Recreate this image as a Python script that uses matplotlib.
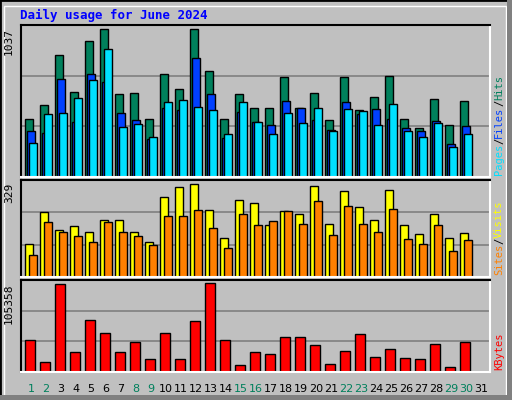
import matplotlib.pyplot as plt
from matplotlib.patches import Rectangle
import numpy as np

days = np.arange(1, 32)
weekend = [1, 2, 8, 9, 15, 16, 22, 23, 29, 30]

hits = [396, 491, 832, 580, 928, 1010, 566, 573, 396, 703, 600, 1010, 723, 396, 566,
        471, 471, 682, 471, 573, 389, 682, 457, 546, 689, 396, 334, 532, 355, 519, 0]
files = [314, 300, 669, 375, 703, 648, 437, 389, 259, 471, 458, 812, 566, 266, 443,
         375, 355, 519, 471, 389, 321, 512, 430, 464, 396, 334, 314, 382, 225, 348, 0]
pages = [232, 430, 437, 539, 662, 873, 341, 362, 273, 512, 525, 478, 457, 293, 512,
         375, 293, 437, 368, 471, 314, 464, 450, 355, 498, 314, 273, 368, 205, 293, 0]
visits = [112, 220, 160, 173, 153, 193, 193, 153, 119, 271, 305, 315, 227, 132, 261,
          251, 176, 224, 214, 309, 180, 292, 237, 193, 295, 176, 146, 214, 132, 149, 0]
sites = [75, 187, 153, 139, 119, 187, 153, 139, 108, 207, 207, 227, 166, 98, 214,
         176, 190, 224, 180, 258, 142, 241, 180, 153, 231, 129, 112, 176, 88, 126, 0]
kbytes = [37000, 11600, 100700, 23000, 59000, 45000, 23000, 34700, 15000, 45000, 15000,
          58000, 102000, 37000, 8100, 23000, 20800, 40500, 40500, 31000, 9300, 24300,
          44000, 17400, 26600, 16200, 15000, 32400, 5800, 34700, 0]

W, H = 512, 400
fig = plt.figure(figsize=(W / 100, H / 100), dpi=100)
fig.patch.set_facecolor("#C0C0C0")
# outer frame
fig.add_artist(Rectangle((0, 0), 1, 1, transform=fig.transFigure, fill=False,
                         edgecolor="black", linewidth=2))
fig.add_artist(Rectangle((4 / W, 4 / H), (W - 10) / W, (H - 10) / H, transform=fig.transFigure,
                         fill=False, edgecolor="white", linewidth=1))
fig.add_artist(Rectangle((0, 0), (W - 5) / W, 5 / H, transform=fig.transFigure,
                         facecolor="#808080", edgecolor="none"))
fig.add_artist(Rectangle(((W - 5) / W, 0), 5 / W, 1, transform=fig.transFigure,
                         facecolor="#808080", edgecolor="none"))

mono = "DejaVu Sans Mono"
fig.text(20 / W, 1 - 15 / H, "Daily usage for June 2024", color="#0000FF", fontsize=9,
         fontweight="bold", family=mono, va="center")

x0, x1 = 21, 490
xpos = 25 + 15 * (days - 1)


def panel(top, bottom, ymax, label):
    ax = fig.add_axes([x0 / W, 1 - bottom / H, (x1 - x0) / W, (bottom - top) / H])
    ax.set_facecolor("#C0C0C0")
    ax.set_xlim(x0, x1)
    ax.set_ylim(0, ymax)
    for f in (1 / 3, 2 / 3):
        ax.axhline(ymax * f, color="#808080", linewidth=1.2, zorder=0)
    ax.set_xticks([])
    ax.set_yticks([])
    for s in ("top", "left"):
        ax.spines[s].set_color("black")
    for s in ("bottom", "right"):
        ax.spines[s].set_color("white")
    for s in ax.spines.values():
        s.set_linewidth(1.5)
    fig.text(9 / W, 1 - (top + 3) / H, label, rotation=90, ha="center", va="top",
             fontsize=8, family=mono)
    return ax


renderer = fig.canvas.get_renderer()


def side_label(bottom, parts):
    # stacked vertical text pieces, bottom to top, measured after drawing
    y = bottom - 2
    for txt, col in parts:
        t = fig.text(499 / W, 1 - y / H, txt, rotation=90, color=col, ha="center",
                     va="bottom", fontsize=7.5, family=mono)
        y -= t.get_window_extent(renderer).height


bw = 8
ax1 = panel(25, 177, 1037, "1037")
ax1.bar(xpos, hits, bw, align="edge", color="#00805C", edgecolor="black", linewidth=1)
ax1.bar(xpos + 2, files, bw, align="edge", color="#0040FF", edgecolor="black", linewidth=1)
ax1.bar(xpos + 4, pages, bw, align="edge", color="#00E0FF", edgecolor="black", linewidth=1)
side_label(177, [("Pages", "#00E0FF"), ("/", "black"), ("Files", "#0040FF"),
                 ("/", "black"), ("Hits", "#00805C")])

ax2 = panel(180, 277, 329, "329")
ax2.bar(xpos, visits, bw, align="edge", color="#FFFF00", edgecolor="black", linewidth=1)
ax2.bar(xpos + 4, sites, bw, align="edge", color="#FF8000", edgecolor="black", linewidth=1)
side_label(277, [("Sites", "#FF8000"), ("/", "black"), ("Visits", "#FFFF00")])

ax3 = panel(280, 372, 105358, "105358")
ax3.bar(xpos, kbytes, 10, align="edge", color="#FF0000", edgecolor="black", linewidth=1)
side_label(372, [("KBytes", "#FF0000")])

for d, xp in zip(days, xpos):
    fig.text((xp + 6) / W, 1 - 389 / H, str(d), ha="center", va="center", fontsize=8,
             color="#00805C" if d in weekend else "black")

fig.savefig("out.png", dpi=100, facecolor=fig.get_facecolor())
